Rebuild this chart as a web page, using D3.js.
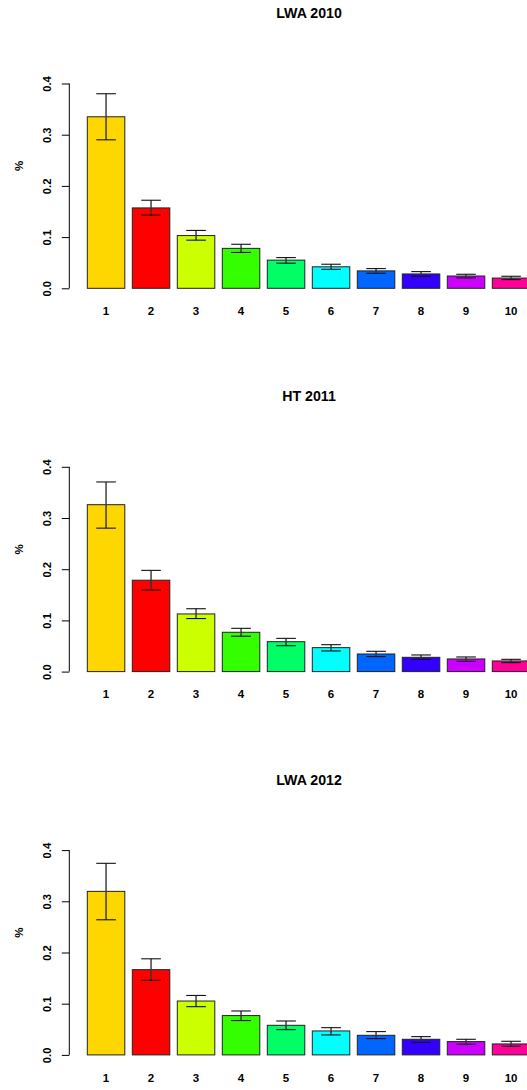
<!DOCTYPE html>
<html lang="en">
<head>
    <meta charset="UTF-8">
    <title>LWA / HT barplots</title>
    <style>
        body { margin: 0; background: #fff; }
        svg { display: block; }
    </style>
</head>
<script src="https://cdn.jsdelivr.net/npm/d3@7"></script>
<body>
<script>
    var width = 527;
    var height = 1090;

    // data
    var categories = ["1", "2", "3", "4", "5", "6", "7", "8", "9", "10"];
    var titles = ["LWA 2010", "HT 2011", "LWA 2012"];
    var barColors = ["#FFD700", "#FF0000", "#CCFF00", "#33FF00", "#00FF66",
        "#00FFFF", "#0066FF", "#3300FF", "#CC00FF", "#FF0099"];
    var yTicks = [0, 0.1, 0.2, 0.3, 0.4];

    var mean2010 = [0.335, 0.157, 0.103, 0.078, 0.055, 0.042, 0.034, 0.028, 0.024, 0.020];
    var upper2010 = [0.380, 0.172, 0.113, 0.086, 0.060, 0.047, 0.0385, 0.0326, 0.0274, 0.0235];
    var lower2010 = [0.290, 0.143, 0.094, 0.070, 0.049, 0.037, 0.0294, 0.0235, 0.0202, 0.017];

    var mean2011 = [0.326, 0.1785, 0.1126, 0.0768, 0.0584, 0.0468, 0.0344, 0.0279, 0.0247, 0.0208];
    var upper2011 = [0.3704, 0.1977, 0.1228, 0.0845, 0.0649, 0.0526, 0.0396, 0.0325, 0.0286, 0.0240];
    var lower2011 = [0.2802, 0.1593, 0.1036, 0.0691, 0.0506, 0.0403, 0.0292, 0.0240, 0.0201, 0.0175];

    var mean2012 = [0.3194, 0.1665, 0.1052, 0.0768, 0.0578, 0.0468, 0.0383, 0.0305, 0.0260, 0.0214];
    var upper2012 = [0.3742, 0.1877, 0.1161, 0.0858, 0.0662, 0.0532, 0.0455, 0.0357, 0.0305, 0.0266];
    var lower2012 = [0.2639, 0.1458, 0.0942, 0.0671, 0.0494, 0.0390, 0.0318, 0.0247, 0.0208, 0.0169];

    var panels = [
        {title: titles[0], mean: mean2010, upper: upper2010, lower: lower2010},
        {title: titles[1], mean: mean2011, upper: upper2011, lower: lower2011},
        {title: titles[2], mean: mean2012, upper: upper2012, lower: lower2012}
    ];

    var svg = d3.select("body")
            .append("svg")
            .attr("width", width)
            .attr("height", height);

    var font = "'Liberation Sans', Arial, Helvetica, sans-serif";
    var panelStep = 383.3;   // vertical distance between the three plots
    var axisX = 69.3;

    // bars: width 37.5, gap 7.5 (R barplot space = 0.2); the last bar runs off the right edge
    var x = d3.scaleBand()
            .domain(categories)
            .range([87.3, 87.3 + 45 * (10 - 1 / 6)])
            .paddingInner(1 / 6)
            .paddingOuter(0);

    var y = d3.scaleLinear()
            .domain([0, 0.4])
            .range([288.3, 83.5]);

    panels.forEach(function (p, k) {
        var g = svg.append("g")
                .attr("transform", "translate(0," + (k * panelStep) + ")");

        // title
        g.append("text")
                .attr("x", 309)
                .attr("y", 18)
                .attr("text-anchor", "middle")
                .attr("font-family", font)
                .attr("font-weight", "bold")
                .attr("font-size", 14.2)
                .text(p.title);

        // y axis, labels parallel to the axis as in R
        var yAxis = d3.axisLeft(y)
                .tickValues(yTicks)
                .tickSize(7.5)
                .tickFormat(d3.format(".1f"));
        var ax = g.append("g")
                .attr("transform", "translate(" + axisX + ",0)")
                .call(yAxis);
        ax.select(".domain").attr("d", "M0," + y(0) + "V" + y(0.4))
                .attr("stroke", "#000");
        ax.selectAll(".tick line").attr("stroke", "#000");
        ax.selectAll(".tick text")
                .attr("x", null)
                .attr("dy", null)
                .attr("transform", "translate(-22.5,0) rotate(-90)")
                .attr("text-anchor", "middle")
                .attr("dominant-baseline", "central")
                .attr("font-family", font)
                .attr("font-weight", "bold")
                .attr("font-size", 11.2)
                .attr("fill", "#000");

        // y label
        g.append("text")
                .attr("transform", "translate(18.5,166) rotate(-90)")
                .attr("text-anchor", "middle")
                .attr("dominant-baseline", "central")
                .attr("font-family", font)
                .attr("font-weight", "bold")
                .attr("font-size", 11.5)
                .text("%");

        // bars
        g.selectAll("rect.bar")
                .data(categories)
                .enter()
                .append("rect")
                .attr("class", "bar")
                .attr("x", function (d) { return x(d); })
                .attr("y", function (d, i) { return y(p.mean[i]); })
                .attr("width", x.bandwidth())
                .attr("height", function (d, i) { return y(0) - y(p.mean[i]); })
                .attr("fill", function (d, i) { return barColors[i]; })
                .attr("stroke", "#222")
                .attr("stroke-width", 1);

        // error bars
        var eb = g.selectAll("g.err")
                .data(categories)
                .enter()
                .append("g")
                .attr("class", "err")
                .attr("stroke", "#111")
                .attr("stroke-width", 1.1);
        eb.append("line")
                .attr("x1", function (d) { return x(d) + x.bandwidth() / 2; })
                .attr("x2", function (d) { return x(d) + x.bandwidth() / 2; })
                .attr("y1", function (d, i) { return y(p.lower[i]); })
                .attr("y2", function (d, i) { return y(p.upper[i]); })
                .attr("stroke", "#333")
                .attr("stroke-width", 1.4);
        eb.append("line")
                .attr("x1", function (d) { return x(d) + x.bandwidth() / 2 - 9.8; })
                .attr("x2", function (d) { return x(d) + x.bandwidth() / 2 + 9.8; })
                .attr("y1", function (d, i) { return y(p.upper[i]); })
                .attr("y2", function (d, i) { return y(p.upper[i]); });
        eb.append("line")
                .attr("x1", function (d) { return x(d) + x.bandwidth() / 2 - 9.8; })
                .attr("x2", function (d) { return x(d) + x.bandwidth() / 2 + 9.8; })
                .attr("y1", function (d, i) { return y(p.lower[i]); })
                .attr("y2", function (d, i) { return y(p.lower[i]); });

        // bar names
        g.selectAll("text.name")
                .data(categories)
                .enter()
                .append("text")
                .attr("class", "name")
                .attr("x", function (d) { return x(d) + x.bandwidth() / 2; })
                .attr("y", 311)
                .attr("text-anchor", "middle")
                .attr("dominant-baseline", "central")
                .attr("font-family", font)
                .attr("font-weight", "bold")
                .attr("font-size", 11.5)
                .text(function (d) { return d; });
    });
</script>
</body>
</html>
